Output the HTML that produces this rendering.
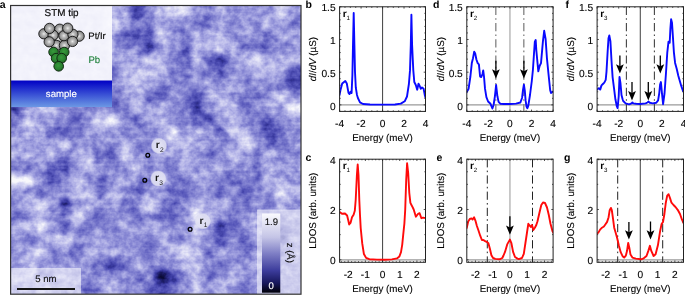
<!DOCTYPE html><html><head><meta charset="utf-8"><style>html,body{margin:0;padding:0;background:#fff;width:685px;height:296px;overflow:hidden}svg{display:block;will-change:transform}text{font-family:"Liberation Sans",sans-serif;stroke:#000;stroke-width:0.12px;text-rendering:geometricPrecision}</style></head><body>
<svg xmlns="http://www.w3.org/2000/svg" width="685" height="296" viewBox="0 0 685 296" font-family='"Liberation Sans", sans-serif' fill="#000">
<defs><radialGradient id="gs" cx="0.5" cy="0.5" r="0.55"><stop offset="0" stop-color="#ececec"/><stop offset="0.3" stop-color="#bcbcbc"/><stop offset="0.7" stop-color="#939393"/><stop offset="1" stop-color="#6a6a6a"/></radialGradient><radialGradient id="gg" cx="0.45" cy="0.42" r="0.6"><stop offset="0" stop-color="#389a3c"/><stop offset="0.6" stop-color="#2a8230"/><stop offset="1" stop-color="#1c6322"/></radialGradient><linearGradient id="samp" x1="0" y1="0" x2="0" y2="1"><stop offset="0" stop-color="#0000c4"/><stop offset="1" stop-color="#6c98e4"/></linearGradient><clipPath id="clip_b"><rect x="339.6" y="6.8" width="85.90" height="104.60"/></clipPath><clipPath id="clip_c"><rect x="339.6" y="159.2" width="85.90" height="103.10"/></clipPath><clipPath id="clip_d"><rect x="466.8" y="6.8" width="86.30" height="104.60"/></clipPath><clipPath id="clip_e"><rect x="466.8" y="159.2" width="86.30" height="103.10"/></clipPath><clipPath id="clip_f"><rect x="597.1" y="6.8" width="86.40" height="104.60"/></clipPath><clipPath id="clip_g"><rect x="597.1" y="159.2" width="86.40" height="103.10"/></clipPath></defs>
<defs>
<filter id="stmf" filterUnits="userSpaceOnUse" x="11" y="6" width="290" height="288" color-interpolation-filters="sRGB"><feGaussianBlur in="SourceGraphic" stdDeviation="3" result="g"/><feTurbulence type="fractalNoise" baseFrequency="0.13 0.14" numOctaves="3" seed="5" result="t"/><feColorMatrix in="t" type="matrix" values="1 0 0 0 0  1 0 0 0 0  1 0 0 0 0  0 0 0 0 1" result="n"/><feTurbulence type="fractalNoise" baseFrequency="0.004 0.45" numOctaves="1" seed="11" result="t2"/><feColorMatrix in="t2" type="matrix" values="1 0 0 0 0  1 0 0 0 0  1 0 0 0 0  0 0 0 0 1" result="n2"/><feComposite in="g" in2="n" operator="arithmetic" k1="0" k2="1" k3="0.42" k4="-0.21" result="h0"/><feComposite in="h0" in2="n2" operator="arithmetic" k1="0" k2="1" k3="0.08" k4="-0.04" result="h"/><feComponentTransfer in="h"><feFuncR type="table" tableValues="0.000 0.063 0.141 0.227 0.329 0.439 0.549 0.667 0.776 0.878 0.973"/><feFuncG type="table" tableValues="0.000 0.063 0.141 0.227 0.329 0.439 0.549 0.667 0.776 0.878 0.973"/><feFuncB type="table" tableValues="0.031 0.275 0.471 0.627 0.722 0.784 0.839 0.894 0.933 0.965 0.988"/></feComponentTransfer></filter>
<clipPath id="stmclip"><rect x="11" y="6" width="290" height="288"/></clipPath>
</defs>
<g clip-path="url(#stmclip)">
<g filter="url(#stmf)">
<rect x="0" y="0" width="310" height="300" fill="#999"/>
<rect x="-1" y="-6" width="24" height="24" fill="rgb(158,158,158)"/>
<rect x="23" y="-6" width="12" height="24" fill="rgb(158,158,158)"/>
<rect x="35" y="-6" width="12" height="24" fill="rgb(158,158,158)"/>
<rect x="47" y="-6" width="12" height="24" fill="rgb(158,158,158)"/>
<rect x="59" y="-6" width="12" height="24" fill="rgb(158,158,158)"/>
<rect x="71" y="-6" width="12" height="24" fill="rgb(158,158,158)"/>
<rect x="83" y="-6" width="12" height="24" fill="rgb(158,158,158)"/>
<rect x="95" y="-6" width="12" height="24" fill="rgb(158,158,158)"/>
<rect x="107" y="-6" width="12" height="24" fill="rgb(195,195,195)"/>
<rect x="119" y="-6" width="12" height="24" fill="rgb(177,177,177)"/>
<rect x="131" y="-6" width="12" height="24" fill="rgb(84,84,84)"/>
<rect x="143" y="-6" width="12" height="24" fill="rgb(140,140,140)"/>
<rect x="155" y="-6" width="12" height="24" fill="rgb(195,195,195)"/>
<rect x="167" y="-6" width="12" height="24" fill="rgb(232,232,232)"/>
<rect x="179" y="-6" width="12" height="24" fill="rgb(232,232,232)"/>
<rect x="191" y="-6" width="12" height="24" fill="rgb(158,158,158)"/>
<rect x="203" y="-6" width="12" height="24" fill="rgb(140,140,140)"/>
<rect x="215" y="-6" width="12" height="24" fill="rgb(195,195,195)"/>
<rect x="227" y="-6" width="12" height="24" fill="rgb(158,158,158)"/>
<rect x="239" y="-6" width="12" height="24" fill="rgb(158,158,158)"/>
<rect x="251" y="-6" width="12" height="24" fill="rgb(158,158,158)"/>
<rect x="263" y="-6" width="12" height="24" fill="rgb(158,158,158)"/>
<rect x="275" y="-6" width="12" height="24" fill="rgb(232,232,232)"/>
<rect x="287" y="-6" width="24" height="24" fill="rgb(158,158,158)"/>
<rect x="-1" y="18" width="24" height="12" fill="rgb(158,158,158)"/>
<rect x="23" y="18" width="12" height="12" fill="rgb(158,158,158)"/>
<rect x="35" y="18" width="12" height="12" fill="rgb(158,158,158)"/>
<rect x="47" y="18" width="12" height="12" fill="rgb(158,158,158)"/>
<rect x="59" y="18" width="12" height="12" fill="rgb(158,158,158)"/>
<rect x="71" y="18" width="12" height="12" fill="rgb(158,158,158)"/>
<rect x="83" y="18" width="12" height="12" fill="rgb(158,158,158)"/>
<rect x="95" y="18" width="12" height="12" fill="rgb(158,158,158)"/>
<rect x="107" y="18" width="12" height="12" fill="rgb(232,232,232)"/>
<rect x="119" y="18" width="12" height="12" fill="rgb(177,177,177)"/>
<rect x="131" y="18" width="12" height="12" fill="rgb(140,140,140)"/>
<rect x="143" y="18" width="12" height="12" fill="rgb(140,140,140)"/>
<rect x="155" y="18" width="12" height="12" fill="rgb(177,177,177)"/>
<rect x="167" y="18" width="12" height="12" fill="rgb(140,140,140)"/>
<rect x="179" y="18" width="12" height="12" fill="rgb(140,140,140)"/>
<rect x="191" y="18" width="12" height="12" fill="rgb(140,140,140)"/>
<rect x="203" y="18" width="12" height="12" fill="rgb(121,121,121)"/>
<rect x="215" y="18" width="12" height="12" fill="rgb(177,177,177)"/>
<rect x="227" y="18" width="12" height="12" fill="rgb(140,140,140)"/>
<rect x="239" y="18" width="12" height="12" fill="rgb(177,177,177)"/>
<rect x="251" y="18" width="12" height="12" fill="rgb(158,158,158)"/>
<rect x="263" y="18" width="12" height="12" fill="rgb(195,195,195)"/>
<rect x="275" y="18" width="12" height="12" fill="rgb(158,158,158)"/>
<rect x="287" y="18" width="24" height="12" fill="rgb(140,140,140)"/>
<rect x="-1" y="30" width="24" height="12" fill="rgb(158,158,158)"/>
<rect x="23" y="30" width="12" height="12" fill="rgb(158,158,158)"/>
<rect x="35" y="30" width="12" height="12" fill="rgb(158,158,158)"/>
<rect x="47" y="30" width="12" height="12" fill="rgb(158,158,158)"/>
<rect x="59" y="30" width="12" height="12" fill="rgb(158,158,158)"/>
<rect x="71" y="30" width="12" height="12" fill="rgb(158,158,158)"/>
<rect x="83" y="30" width="12" height="12" fill="rgb(158,158,158)"/>
<rect x="95" y="30" width="12" height="12" fill="rgb(158,158,158)"/>
<rect x="107" y="30" width="12" height="12" fill="rgb(158,158,158)"/>
<rect x="119" y="30" width="12" height="12" fill="rgb(103,103,103)"/>
<rect x="131" y="30" width="12" height="12" fill="rgb(84,84,84)"/>
<rect x="143" y="30" width="12" height="12" fill="rgb(103,103,103)"/>
<rect x="155" y="30" width="12" height="12" fill="rgb(214,214,214)"/>
<rect x="167" y="30" width="12" height="12" fill="rgb(177,177,177)"/>
<rect x="179" y="30" width="12" height="12" fill="rgb(140,140,140)"/>
<rect x="191" y="30" width="12" height="12" fill="rgb(195,195,195)"/>
<rect x="203" y="30" width="12" height="12" fill="rgb(177,177,177)"/>
<rect x="215" y="30" width="12" height="12" fill="rgb(195,195,195)"/>
<rect x="227" y="30" width="12" height="12" fill="rgb(158,158,158)"/>
<rect x="239" y="30" width="12" height="12" fill="rgb(158,158,158)"/>
<rect x="251" y="30" width="12" height="12" fill="rgb(158,158,158)"/>
<rect x="263" y="30" width="12" height="12" fill="rgb(121,121,121)"/>
<rect x="275" y="30" width="12" height="12" fill="rgb(177,177,177)"/>
<rect x="287" y="30" width="24" height="12" fill="rgb(177,177,177)"/>
<rect x="-1" y="42" width="24" height="12" fill="rgb(158,158,158)"/>
<rect x="23" y="42" width="12" height="12" fill="rgb(158,158,158)"/>
<rect x="35" y="42" width="12" height="12" fill="rgb(158,158,158)"/>
<rect x="47" y="42" width="12" height="12" fill="rgb(158,158,158)"/>
<rect x="59" y="42" width="12" height="12" fill="rgb(158,158,158)"/>
<rect x="71" y="42" width="12" height="12" fill="rgb(158,158,158)"/>
<rect x="83" y="42" width="12" height="12" fill="rgb(158,158,158)"/>
<rect x="95" y="42" width="12" height="12" fill="rgb(158,158,158)"/>
<rect x="107" y="42" width="12" height="12" fill="rgb(177,177,177)"/>
<rect x="119" y="42" width="12" height="12" fill="rgb(158,158,158)"/>
<rect x="131" y="42" width="12" height="12" fill="rgb(158,158,158)"/>
<rect x="143" y="42" width="12" height="12" fill="rgb(84,84,84)"/>
<rect x="155" y="42" width="12" height="12" fill="rgb(158,158,158)"/>
<rect x="167" y="42" width="12" height="12" fill="rgb(177,177,177)"/>
<rect x="179" y="42" width="12" height="12" fill="rgb(103,103,103)"/>
<rect x="191" y="42" width="12" height="12" fill="rgb(177,177,177)"/>
<rect x="203" y="42" width="12" height="12" fill="rgb(195,195,195)"/>
<rect x="215" y="42" width="12" height="12" fill="rgb(214,214,214)"/>
<rect x="227" y="42" width="12" height="12" fill="rgb(177,177,177)"/>
<rect x="239" y="42" width="12" height="12" fill="rgb(140,140,140)"/>
<rect x="251" y="42" width="12" height="12" fill="rgb(121,121,121)"/>
<rect x="263" y="42" width="12" height="12" fill="rgb(140,140,140)"/>
<rect x="275" y="42" width="12" height="12" fill="rgb(140,140,140)"/>
<rect x="287" y="42" width="24" height="12" fill="rgb(158,158,158)"/>
<rect x="-1" y="54" width="24" height="12" fill="rgb(158,158,158)"/>
<rect x="23" y="54" width="12" height="12" fill="rgb(158,158,158)"/>
<rect x="35" y="54" width="12" height="12" fill="rgb(158,158,158)"/>
<rect x="47" y="54" width="12" height="12" fill="rgb(158,158,158)"/>
<rect x="59" y="54" width="12" height="12" fill="rgb(158,158,158)"/>
<rect x="71" y="54" width="12" height="12" fill="rgb(158,158,158)"/>
<rect x="83" y="54" width="12" height="12" fill="rgb(158,158,158)"/>
<rect x="95" y="54" width="12" height="12" fill="rgb(158,158,158)"/>
<rect x="107" y="54" width="12" height="12" fill="rgb(158,158,158)"/>
<rect x="119" y="54" width="12" height="12" fill="rgb(195,195,195)"/>
<rect x="131" y="54" width="12" height="12" fill="rgb(158,158,158)"/>
<rect x="143" y="54" width="12" height="12" fill="rgb(214,214,214)"/>
<rect x="155" y="54" width="12" height="12" fill="rgb(195,195,195)"/>
<rect x="167" y="54" width="12" height="12" fill="rgb(140,140,140)"/>
<rect x="179" y="54" width="12" height="12" fill="rgb(121,121,121)"/>
<rect x="191" y="54" width="12" height="12" fill="rgb(195,195,195)"/>
<rect x="203" y="54" width="12" height="12" fill="rgb(121,121,121)"/>
<rect x="215" y="54" width="12" height="12" fill="rgb(66,66,66)"/>
<rect x="227" y="54" width="12" height="12" fill="rgb(158,158,158)"/>
<rect x="239" y="54" width="12" height="12" fill="rgb(195,195,195)"/>
<rect x="251" y="54" width="12" height="12" fill="rgb(232,232,232)"/>
<rect x="263" y="54" width="12" height="12" fill="rgb(177,177,177)"/>
<rect x="275" y="54" width="12" height="12" fill="rgb(195,195,195)"/>
<rect x="287" y="54" width="24" height="12" fill="rgb(195,195,195)"/>
<rect x="-1" y="66" width="24" height="12" fill="rgb(158,158,158)"/>
<rect x="23" y="66" width="12" height="12" fill="rgb(158,158,158)"/>
<rect x="35" y="66" width="12" height="12" fill="rgb(158,158,158)"/>
<rect x="47" y="66" width="12" height="12" fill="rgb(158,158,158)"/>
<rect x="59" y="66" width="12" height="12" fill="rgb(158,158,158)"/>
<rect x="71" y="66" width="12" height="12" fill="rgb(158,158,158)"/>
<rect x="83" y="66" width="12" height="12" fill="rgb(158,158,158)"/>
<rect x="95" y="66" width="12" height="12" fill="rgb(158,158,158)"/>
<rect x="107" y="66" width="12" height="12" fill="rgb(121,121,121)"/>
<rect x="119" y="66" width="12" height="12" fill="rgb(177,177,177)"/>
<rect x="131" y="66" width="12" height="12" fill="rgb(214,214,214)"/>
<rect x="143" y="66" width="12" height="12" fill="rgb(195,195,195)"/>
<rect x="155" y="66" width="12" height="12" fill="rgb(195,195,195)"/>
<rect x="167" y="66" width="12" height="12" fill="rgb(140,140,140)"/>
<rect x="179" y="66" width="12" height="12" fill="rgb(140,140,140)"/>
<rect x="191" y="66" width="12" height="12" fill="rgb(158,158,158)"/>
<rect x="203" y="66" width="12" height="12" fill="rgb(140,140,140)"/>
<rect x="215" y="66" width="12" height="12" fill="rgb(103,103,103)"/>
<rect x="227" y="66" width="12" height="12" fill="rgb(158,158,158)"/>
<rect x="239" y="66" width="12" height="12" fill="rgb(158,158,158)"/>
<rect x="251" y="66" width="12" height="12" fill="rgb(177,177,177)"/>
<rect x="263" y="66" width="12" height="12" fill="rgb(195,195,195)"/>
<rect x="275" y="66" width="12" height="12" fill="rgb(177,177,177)"/>
<rect x="287" y="66" width="24" height="12" fill="rgb(84,84,84)"/>
<rect x="-1" y="78" width="24" height="12" fill="rgb(158,158,158)"/>
<rect x="23" y="78" width="12" height="12" fill="rgb(158,158,158)"/>
<rect x="35" y="78" width="12" height="12" fill="rgb(158,158,158)"/>
<rect x="47" y="78" width="12" height="12" fill="rgb(158,158,158)"/>
<rect x="59" y="78" width="12" height="12" fill="rgb(158,158,158)"/>
<rect x="71" y="78" width="12" height="12" fill="rgb(158,158,158)"/>
<rect x="83" y="78" width="12" height="12" fill="rgb(158,158,158)"/>
<rect x="95" y="78" width="12" height="12" fill="rgb(158,158,158)"/>
<rect x="107" y="78" width="12" height="12" fill="rgb(158,158,158)"/>
<rect x="119" y="78" width="12" height="12" fill="rgb(177,177,177)"/>
<rect x="131" y="78" width="12" height="12" fill="rgb(195,195,195)"/>
<rect x="143" y="78" width="12" height="12" fill="rgb(195,195,195)"/>
<rect x="155" y="78" width="12" height="12" fill="rgb(140,140,140)"/>
<rect x="167" y="78" width="12" height="12" fill="rgb(158,158,158)"/>
<rect x="179" y="78" width="12" height="12" fill="rgb(140,140,140)"/>
<rect x="191" y="78" width="12" height="12" fill="rgb(158,158,158)"/>
<rect x="203" y="78" width="12" height="12" fill="rgb(177,177,177)"/>
<rect x="215" y="78" width="12" height="12" fill="rgb(140,140,140)"/>
<rect x="227" y="78" width="12" height="12" fill="rgb(195,195,195)"/>
<rect x="239" y="78" width="12" height="12" fill="rgb(140,140,140)"/>
<rect x="251" y="78" width="12" height="12" fill="rgb(177,177,177)"/>
<rect x="263" y="78" width="12" height="12" fill="rgb(140,140,140)"/>
<rect x="275" y="78" width="12" height="12" fill="rgb(140,140,140)"/>
<rect x="287" y="78" width="24" height="12" fill="rgb(84,84,84)"/>
<rect x="-1" y="90" width="24" height="12" fill="rgb(158,158,158)"/>
<rect x="23" y="90" width="12" height="12" fill="rgb(158,158,158)"/>
<rect x="35" y="90" width="12" height="12" fill="rgb(158,158,158)"/>
<rect x="47" y="90" width="12" height="12" fill="rgb(158,158,158)"/>
<rect x="59" y="90" width="12" height="12" fill="rgb(158,158,158)"/>
<rect x="71" y="90" width="12" height="12" fill="rgb(158,158,158)"/>
<rect x="83" y="90" width="12" height="12" fill="rgb(158,158,158)"/>
<rect x="95" y="90" width="12" height="12" fill="rgb(158,158,158)"/>
<rect x="107" y="90" width="12" height="12" fill="rgb(121,121,121)"/>
<rect x="119" y="90" width="12" height="12" fill="rgb(158,158,158)"/>
<rect x="131" y="90" width="12" height="12" fill="rgb(195,195,195)"/>
<rect x="143" y="90" width="12" height="12" fill="rgb(121,121,121)"/>
<rect x="155" y="90" width="12" height="12" fill="rgb(103,103,103)"/>
<rect x="167" y="90" width="12" height="12" fill="rgb(158,158,158)"/>
<rect x="179" y="90" width="12" height="12" fill="rgb(140,140,140)"/>
<rect x="191" y="90" width="12" height="12" fill="rgb(103,103,103)"/>
<rect x="203" y="90" width="12" height="12" fill="rgb(177,177,177)"/>
<rect x="215" y="90" width="12" height="12" fill="rgb(195,195,195)"/>
<rect x="227" y="90" width="12" height="12" fill="rgb(158,158,158)"/>
<rect x="239" y="90" width="12" height="12" fill="rgb(140,140,140)"/>
<rect x="251" y="90" width="12" height="12" fill="rgb(140,140,140)"/>
<rect x="263" y="90" width="12" height="12" fill="rgb(158,158,158)"/>
<rect x="275" y="90" width="12" height="12" fill="rgb(214,214,214)"/>
<rect x="287" y="90" width="24" height="12" fill="rgb(158,158,158)"/>
<rect x="-1" y="102" width="24" height="12" fill="rgb(84,84,84)"/>
<rect x="23" y="102" width="12" height="12" fill="rgb(158,158,158)"/>
<rect x="35" y="102" width="12" height="12" fill="rgb(195,195,195)"/>
<rect x="47" y="102" width="12" height="12" fill="rgb(195,195,195)"/>
<rect x="59" y="102" width="12" height="12" fill="rgb(158,158,158)"/>
<rect x="71" y="102" width="12" height="12" fill="rgb(158,158,158)"/>
<rect x="83" y="102" width="12" height="12" fill="rgb(140,140,140)"/>
<rect x="95" y="102" width="12" height="12" fill="rgb(158,158,158)"/>
<rect x="107" y="102" width="12" height="12" fill="rgb(103,103,103)"/>
<rect x="119" y="102" width="12" height="12" fill="rgb(158,158,158)"/>
<rect x="131" y="102" width="12" height="12" fill="rgb(195,195,195)"/>
<rect x="143" y="102" width="12" height="12" fill="rgb(158,158,158)"/>
<rect x="155" y="102" width="12" height="12" fill="rgb(195,195,195)"/>
<rect x="167" y="102" width="12" height="12" fill="rgb(158,158,158)"/>
<rect x="179" y="102" width="12" height="12" fill="rgb(140,140,140)"/>
<rect x="191" y="102" width="12" height="12" fill="rgb(66,66,66)"/>
<rect x="203" y="102" width="12" height="12" fill="rgb(158,158,158)"/>
<rect x="215" y="102" width="12" height="12" fill="rgb(195,195,195)"/>
<rect x="227" y="102" width="12" height="12" fill="rgb(195,195,195)"/>
<rect x="239" y="102" width="12" height="12" fill="rgb(121,121,121)"/>
<rect x="251" y="102" width="12" height="12" fill="rgb(158,158,158)"/>
<rect x="263" y="102" width="12" height="12" fill="rgb(177,177,177)"/>
<rect x="275" y="102" width="12" height="12" fill="rgb(177,177,177)"/>
<rect x="287" y="102" width="24" height="12" fill="rgb(255,255,255)"/>
<rect x="-1" y="114" width="24" height="12" fill="rgb(140,140,140)"/>
<rect x="23" y="114" width="12" height="12" fill="rgb(214,214,214)"/>
<rect x="35" y="114" width="12" height="12" fill="rgb(158,158,158)"/>
<rect x="47" y="114" width="12" height="12" fill="rgb(177,177,177)"/>
<rect x="59" y="114" width="12" height="12" fill="rgb(140,140,140)"/>
<rect x="71" y="114" width="12" height="12" fill="rgb(103,103,103)"/>
<rect x="83" y="114" width="12" height="12" fill="rgb(177,177,177)"/>
<rect x="95" y="114" width="12" height="12" fill="rgb(232,232,232)"/>
<rect x="107" y="114" width="12" height="12" fill="rgb(251,251,251)"/>
<rect x="119" y="114" width="12" height="12" fill="rgb(158,158,158)"/>
<rect x="131" y="114" width="12" height="12" fill="rgb(121,121,121)"/>
<rect x="143" y="114" width="12" height="12" fill="rgb(177,177,177)"/>
<rect x="155" y="114" width="12" height="12" fill="rgb(195,195,195)"/>
<rect x="167" y="114" width="12" height="12" fill="rgb(140,140,140)"/>
<rect x="179" y="114" width="12" height="12" fill="rgb(140,140,140)"/>
<rect x="191" y="114" width="12" height="12" fill="rgb(121,121,121)"/>
<rect x="203" y="114" width="12" height="12" fill="rgb(103,103,103)"/>
<rect x="215" y="114" width="12" height="12" fill="rgb(158,158,158)"/>
<rect x="227" y="114" width="12" height="12" fill="rgb(195,195,195)"/>
<rect x="239" y="114" width="12" height="12" fill="rgb(158,158,158)"/>
<rect x="251" y="114" width="12" height="12" fill="rgb(121,121,121)"/>
<rect x="263" y="114" width="12" height="12" fill="rgb(103,103,103)"/>
<rect x="275" y="114" width="12" height="12" fill="rgb(158,158,158)"/>
<rect x="287" y="114" width="24" height="12" fill="rgb(158,158,158)"/>
<rect x="-1" y="126" width="24" height="12" fill="rgb(158,158,158)"/>
<rect x="23" y="126" width="12" height="12" fill="rgb(195,195,195)"/>
<rect x="35" y="126" width="12" height="12" fill="rgb(177,177,177)"/>
<rect x="47" y="126" width="12" height="12" fill="rgb(121,121,121)"/>
<rect x="59" y="126" width="12" height="12" fill="rgb(103,103,103)"/>
<rect x="71" y="126" width="12" height="12" fill="rgb(140,140,140)"/>
<rect x="83" y="126" width="12" height="12" fill="rgb(158,158,158)"/>
<rect x="95" y="126" width="12" height="12" fill="rgb(177,177,177)"/>
<rect x="107" y="126" width="12" height="12" fill="rgb(158,158,158)"/>
<rect x="119" y="126" width="12" height="12" fill="rgb(140,140,140)"/>
<rect x="131" y="126" width="12" height="12" fill="rgb(158,158,158)"/>
<rect x="143" y="126" width="12" height="12" fill="rgb(140,140,140)"/>
<rect x="155" y="126" width="12" height="12" fill="rgb(177,177,177)"/>
<rect x="167" y="126" width="12" height="12" fill="rgb(232,232,232)"/>
<rect x="179" y="126" width="12" height="12" fill="rgb(158,158,158)"/>
<rect x="191" y="126" width="12" height="12" fill="rgb(195,195,195)"/>
<rect x="203" y="126" width="12" height="12" fill="rgb(158,158,158)"/>
<rect x="215" y="126" width="12" height="12" fill="rgb(121,121,121)"/>
<rect x="227" y="126" width="12" height="12" fill="rgb(214,214,214)"/>
<rect x="239" y="126" width="12" height="12" fill="rgb(195,195,195)"/>
<rect x="251" y="126" width="12" height="12" fill="rgb(140,140,140)"/>
<rect x="263" y="126" width="12" height="12" fill="rgb(84,84,84)"/>
<rect x="275" y="126" width="12" height="12" fill="rgb(121,121,121)"/>
<rect x="287" y="126" width="24" height="12" fill="rgb(158,158,158)"/>
<rect x="-1" y="138" width="24" height="12" fill="rgb(177,177,177)"/>
<rect x="23" y="138" width="12" height="12" fill="rgb(158,158,158)"/>
<rect x="35" y="138" width="12" height="12" fill="rgb(177,177,177)"/>
<rect x="47" y="138" width="12" height="12" fill="rgb(177,177,177)"/>
<rect x="59" y="138" width="12" height="12" fill="rgb(214,214,214)"/>
<rect x="71" y="138" width="12" height="12" fill="rgb(158,158,158)"/>
<rect x="83" y="138" width="12" height="12" fill="rgb(158,158,158)"/>
<rect x="95" y="138" width="12" height="12" fill="rgb(158,158,158)"/>
<rect x="107" y="138" width="12" height="12" fill="rgb(158,158,158)"/>
<rect x="119" y="138" width="12" height="12" fill="rgb(195,195,195)"/>
<rect x="131" y="138" width="12" height="12" fill="rgb(140,140,140)"/>
<rect x="143" y="138" width="12" height="12" fill="rgb(140,140,140)"/>
<rect x="155" y="138" width="12" height="12" fill="rgb(177,177,177)"/>
<rect x="167" y="138" width="12" height="12" fill="rgb(195,195,195)"/>
<rect x="179" y="138" width="12" height="12" fill="rgb(195,195,195)"/>
<rect x="191" y="138" width="12" height="12" fill="rgb(177,177,177)"/>
<rect x="203" y="138" width="12" height="12" fill="rgb(177,177,177)"/>
<rect x="215" y="138" width="12" height="12" fill="rgb(140,140,140)"/>
<rect x="227" y="138" width="12" height="12" fill="rgb(158,158,158)"/>
<rect x="239" y="138" width="12" height="12" fill="rgb(232,232,232)"/>
<rect x="251" y="138" width="12" height="12" fill="rgb(177,177,177)"/>
<rect x="263" y="138" width="12" height="12" fill="rgb(121,121,121)"/>
<rect x="275" y="138" width="12" height="12" fill="rgb(121,121,121)"/>
<rect x="287" y="138" width="24" height="12" fill="rgb(158,158,158)"/>
<rect x="-1" y="150" width="24" height="12" fill="rgb(177,177,177)"/>
<rect x="23" y="150" width="12" height="12" fill="rgb(195,195,195)"/>
<rect x="35" y="150" width="12" height="12" fill="rgb(158,158,158)"/>
<rect x="47" y="150" width="12" height="12" fill="rgb(195,195,195)"/>
<rect x="59" y="150" width="12" height="12" fill="rgb(121,121,121)"/>
<rect x="71" y="150" width="12" height="12" fill="rgb(177,177,177)"/>
<rect x="83" y="150" width="12" height="12" fill="rgb(195,195,195)"/>
<rect x="95" y="150" width="12" height="12" fill="rgb(121,121,121)"/>
<rect x="107" y="150" width="12" height="12" fill="rgb(103,103,103)"/>
<rect x="119" y="150" width="12" height="12" fill="rgb(232,232,232)"/>
<rect x="131" y="150" width="12" height="12" fill="rgb(158,158,158)"/>
<rect x="143" y="150" width="12" height="12" fill="rgb(158,158,158)"/>
<rect x="155" y="150" width="12" height="12" fill="rgb(177,177,177)"/>
<rect x="167" y="150" width="12" height="12" fill="rgb(158,158,158)"/>
<rect x="179" y="150" width="12" height="12" fill="rgb(195,195,195)"/>
<rect x="191" y="150" width="12" height="12" fill="rgb(158,158,158)"/>
<rect x="203" y="150" width="12" height="12" fill="rgb(121,121,121)"/>
<rect x="215" y="150" width="12" height="12" fill="rgb(158,158,158)"/>
<rect x="227" y="150" width="12" height="12" fill="rgb(214,214,214)"/>
<rect x="239" y="150" width="12" height="12" fill="rgb(158,158,158)"/>
<rect x="251" y="150" width="12" height="12" fill="rgb(140,140,140)"/>
<rect x="263" y="150" width="12" height="12" fill="rgb(195,195,195)"/>
<rect x="275" y="150" width="12" height="12" fill="rgb(158,158,158)"/>
<rect x="287" y="150" width="24" height="12" fill="rgb(158,158,158)"/>
<rect x="-1" y="162" width="24" height="12" fill="rgb(140,140,140)"/>
<rect x="23" y="162" width="12" height="12" fill="rgb(121,121,121)"/>
<rect x="35" y="162" width="12" height="12" fill="rgb(158,158,158)"/>
<rect x="47" y="162" width="12" height="12" fill="rgb(103,103,103)"/>
<rect x="59" y="162" width="12" height="12" fill="rgb(103,103,103)"/>
<rect x="71" y="162" width="12" height="12" fill="rgb(158,158,158)"/>
<rect x="83" y="162" width="12" height="12" fill="rgb(214,214,214)"/>
<rect x="95" y="162" width="12" height="12" fill="rgb(158,158,158)"/>
<rect x="107" y="162" width="12" height="12" fill="rgb(158,158,158)"/>
<rect x="119" y="162" width="12" height="12" fill="rgb(140,140,140)"/>
<rect x="131" y="162" width="12" height="12" fill="rgb(195,195,195)"/>
<rect x="143" y="162" width="12" height="12" fill="rgb(158,158,158)"/>
<rect x="155" y="162" width="12" height="12" fill="rgb(158,158,158)"/>
<rect x="167" y="162" width="12" height="12" fill="rgb(121,121,121)"/>
<rect x="179" y="162" width="12" height="12" fill="rgb(195,195,195)"/>
<rect x="191" y="162" width="12" height="12" fill="rgb(158,158,158)"/>
<rect x="203" y="162" width="12" height="12" fill="rgb(177,177,177)"/>
<rect x="215" y="162" width="12" height="12" fill="rgb(177,177,177)"/>
<rect x="227" y="162" width="12" height="12" fill="rgb(140,140,140)"/>
<rect x="239" y="162" width="12" height="12" fill="rgb(158,158,158)"/>
<rect x="251" y="162" width="12" height="12" fill="rgb(140,140,140)"/>
<rect x="263" y="162" width="12" height="12" fill="rgb(177,177,177)"/>
<rect x="275" y="162" width="12" height="12" fill="rgb(158,158,158)"/>
<rect x="287" y="162" width="24" height="12" fill="rgb(177,177,177)"/>
<rect x="-1" y="174" width="24" height="12" fill="rgb(255,255,255)"/>
<rect x="23" y="174" width="12" height="12" fill="rgb(251,251,251)"/>
<rect x="35" y="174" width="12" height="12" fill="rgb(158,158,158)"/>
<rect x="47" y="174" width="12" height="12" fill="rgb(103,103,103)"/>
<rect x="59" y="174" width="12" height="12" fill="rgb(158,158,158)"/>
<rect x="71" y="174" width="12" height="12" fill="rgb(195,195,195)"/>
<rect x="83" y="174" width="12" height="12" fill="rgb(158,158,158)"/>
<rect x="95" y="174" width="12" height="12" fill="rgb(121,121,121)"/>
<rect x="107" y="174" width="12" height="12" fill="rgb(158,158,158)"/>
<rect x="119" y="174" width="12" height="12" fill="rgb(195,195,195)"/>
<rect x="131" y="174" width="12" height="12" fill="rgb(158,158,158)"/>
<rect x="143" y="174" width="12" height="12" fill="rgb(140,140,140)"/>
<rect x="155" y="174" width="12" height="12" fill="rgb(195,195,195)"/>
<rect x="167" y="174" width="12" height="12" fill="rgb(140,140,140)"/>
<rect x="179" y="174" width="12" height="12" fill="rgb(140,140,140)"/>
<rect x="191" y="174" width="12" height="12" fill="rgb(177,177,177)"/>
<rect x="203" y="174" width="12" height="12" fill="rgb(177,177,177)"/>
<rect x="215" y="174" width="12" height="12" fill="rgb(140,140,140)"/>
<rect x="227" y="174" width="12" height="12" fill="rgb(121,121,121)"/>
<rect x="239" y="174" width="12" height="12" fill="rgb(158,158,158)"/>
<rect x="251" y="174" width="12" height="12" fill="rgb(121,121,121)"/>
<rect x="263" y="174" width="12" height="12" fill="rgb(195,195,195)"/>
<rect x="275" y="174" width="12" height="12" fill="rgb(177,177,177)"/>
<rect x="287" y="174" width="24" height="12" fill="rgb(158,158,158)"/>
<rect x="-1" y="186" width="24" height="12" fill="rgb(158,158,158)"/>
<rect x="23" y="186" width="12" height="12" fill="rgb(158,158,158)"/>
<rect x="35" y="186" width="12" height="12" fill="rgb(121,121,121)"/>
<rect x="47" y="186" width="12" height="12" fill="rgb(158,158,158)"/>
<rect x="59" y="186" width="12" height="12" fill="rgb(158,158,158)"/>
<rect x="71" y="186" width="12" height="12" fill="rgb(195,195,195)"/>
<rect x="83" y="186" width="12" height="12" fill="rgb(195,195,195)"/>
<rect x="95" y="186" width="12" height="12" fill="rgb(121,121,121)"/>
<rect x="107" y="186" width="12" height="12" fill="rgb(195,195,195)"/>
<rect x="119" y="186" width="12" height="12" fill="rgb(158,158,158)"/>
<rect x="131" y="186" width="12" height="12" fill="rgb(103,103,103)"/>
<rect x="143" y="186" width="12" height="12" fill="rgb(158,158,158)"/>
<rect x="155" y="186" width="12" height="12" fill="rgb(158,158,158)"/>
<rect x="167" y="186" width="12" height="12" fill="rgb(121,121,121)"/>
<rect x="179" y="186" width="12" height="12" fill="rgb(103,103,103)"/>
<rect x="191" y="186" width="12" height="12" fill="rgb(158,158,158)"/>
<rect x="203" y="186" width="12" height="12" fill="rgb(158,158,158)"/>
<rect x="215" y="186" width="12" height="12" fill="rgb(121,121,121)"/>
<rect x="227" y="186" width="12" height="12" fill="rgb(158,158,158)"/>
<rect x="239" y="186" width="12" height="12" fill="rgb(103,103,103)"/>
<rect x="251" y="186" width="12" height="12" fill="rgb(158,158,158)"/>
<rect x="263" y="186" width="12" height="12" fill="rgb(158,158,158)"/>
<rect x="275" y="186" width="12" height="12" fill="rgb(232,232,232)"/>
<rect x="287" y="186" width="24" height="12" fill="rgb(195,195,195)"/>
<rect x="-1" y="198" width="24" height="12" fill="rgb(158,158,158)"/>
<rect x="23" y="198" width="12" height="12" fill="rgb(195,195,195)"/>
<rect x="35" y="198" width="12" height="12" fill="rgb(232,232,232)"/>
<rect x="47" y="198" width="12" height="12" fill="rgb(158,158,158)"/>
<rect x="59" y="198" width="12" height="12" fill="rgb(84,84,84)"/>
<rect x="71" y="198" width="12" height="12" fill="rgb(158,158,158)"/>
<rect x="83" y="198" width="12" height="12" fill="rgb(195,195,195)"/>
<rect x="95" y="198" width="12" height="12" fill="rgb(158,158,158)"/>
<rect x="107" y="198" width="12" height="12" fill="rgb(195,195,195)"/>
<rect x="119" y="198" width="12" height="12" fill="rgb(121,121,121)"/>
<rect x="131" y="198" width="12" height="12" fill="rgb(158,158,158)"/>
<rect x="143" y="198" width="12" height="12" fill="rgb(232,232,232)"/>
<rect x="155" y="198" width="12" height="12" fill="rgb(158,158,158)"/>
<rect x="167" y="198" width="12" height="12" fill="rgb(121,121,121)"/>
<rect x="179" y="198" width="12" height="12" fill="rgb(158,158,158)"/>
<rect x="191" y="198" width="12" height="12" fill="rgb(195,195,195)"/>
<rect x="203" y="198" width="12" height="12" fill="rgb(158,158,158)"/>
<rect x="215" y="198" width="12" height="12" fill="rgb(195,195,195)"/>
<rect x="227" y="198" width="12" height="12" fill="rgb(158,158,158)"/>
<rect x="239" y="198" width="12" height="12" fill="rgb(121,121,121)"/>
<rect x="251" y="198" width="12" height="12" fill="rgb(158,158,158)"/>
<rect x="263" y="198" width="12" height="12" fill="rgb(121,121,121)"/>
<rect x="275" y="198" width="12" height="12" fill="rgb(195,195,195)"/>
<rect x="287" y="198" width="24" height="12" fill="rgb(158,158,158)"/>
<rect x="-1" y="210" width="24" height="12" fill="rgb(121,121,121)"/>
<rect x="23" y="210" width="12" height="12" fill="rgb(158,158,158)"/>
<rect x="35" y="210" width="12" height="12" fill="rgb(195,195,195)"/>
<rect x="47" y="210" width="12" height="12" fill="rgb(158,158,158)"/>
<rect x="59" y="210" width="12" height="12" fill="rgb(121,121,121)"/>
<rect x="71" y="210" width="12" height="12" fill="rgb(232,232,232)"/>
<rect x="83" y="210" width="12" height="12" fill="rgb(158,158,158)"/>
<rect x="95" y="210" width="12" height="12" fill="rgb(121,121,121)"/>
<rect x="107" y="210" width="12" height="12" fill="rgb(158,158,158)"/>
<rect x="119" y="210" width="12" height="12" fill="rgb(158,158,158)"/>
<rect x="131" y="210" width="12" height="12" fill="rgb(121,121,121)"/>
<rect x="143" y="210" width="12" height="12" fill="rgb(158,158,158)"/>
<rect x="155" y="210" width="12" height="12" fill="rgb(121,121,121)"/>
<rect x="167" y="210" width="12" height="12" fill="rgb(121,121,121)"/>
<rect x="179" y="210" width="12" height="12" fill="rgb(158,158,158)"/>
<rect x="191" y="210" width="12" height="12" fill="rgb(232,232,232)"/>
<rect x="203" y="210" width="12" height="12" fill="rgb(195,195,195)"/>
<rect x="215" y="210" width="12" height="12" fill="rgb(158,158,158)"/>
<rect x="227" y="210" width="12" height="12" fill="rgb(121,121,121)"/>
<rect x="239" y="210" width="12" height="12" fill="rgb(158,158,158)"/>
<rect x="251" y="210" width="12" height="12" fill="rgb(195,195,195)"/>
<rect x="263" y="210" width="12" height="12" fill="rgb(158,158,158)"/>
<rect x="275" y="210" width="12" height="12" fill="rgb(158,158,158)"/>
<rect x="287" y="210" width="24" height="12" fill="rgb(158,158,158)"/>
<rect x="-1" y="222" width="24" height="12" fill="rgb(195,195,195)"/>
<rect x="23" y="222" width="12" height="12" fill="rgb(195,195,195)"/>
<rect x="35" y="222" width="12" height="12" fill="rgb(232,232,232)"/>
<rect x="47" y="222" width="12" height="12" fill="rgb(158,158,158)"/>
<rect x="59" y="222" width="12" height="12" fill="rgb(121,121,121)"/>
<rect x="71" y="222" width="12" height="12" fill="rgb(158,158,158)"/>
<rect x="83" y="222" width="12" height="12" fill="rgb(121,121,121)"/>
<rect x="95" y="222" width="12" height="12" fill="rgb(158,158,158)"/>
<rect x="107" y="222" width="12" height="12" fill="rgb(121,121,121)"/>
<rect x="119" y="222" width="12" height="12" fill="rgb(195,195,195)"/>
<rect x="131" y="222" width="12" height="12" fill="rgb(158,158,158)"/>
<rect x="143" y="222" width="12" height="12" fill="rgb(195,195,195)"/>
<rect x="155" y="222" width="12" height="12" fill="rgb(158,158,158)"/>
<rect x="167" y="222" width="12" height="12" fill="rgb(158,158,158)"/>
<rect x="179" y="222" width="12" height="12" fill="rgb(158,158,158)"/>
<rect x="191" y="222" width="12" height="12" fill="rgb(195,195,195)"/>
<rect x="203" y="222" width="12" height="12" fill="rgb(158,158,158)"/>
<rect x="215" y="222" width="12" height="12" fill="rgb(84,84,84)"/>
<rect x="227" y="222" width="12" height="12" fill="rgb(121,121,121)"/>
<rect x="239" y="222" width="12" height="12" fill="rgb(158,158,158)"/>
<rect x="251" y="222" width="12" height="12" fill="rgb(195,195,195)"/>
<rect x="263" y="222" width="12" height="12" fill="rgb(158,158,158)"/>
<rect x="275" y="222" width="12" height="12" fill="rgb(103,103,103)"/>
<rect x="287" y="222" width="24" height="12" fill="rgb(158,158,158)"/>
<rect x="-1" y="234" width="24" height="12" fill="rgb(158,158,158)"/>
<rect x="23" y="234" width="12" height="12" fill="rgb(121,121,121)"/>
<rect x="35" y="234" width="12" height="12" fill="rgb(158,158,158)"/>
<rect x="47" y="234" width="12" height="12" fill="rgb(195,195,195)"/>
<rect x="59" y="234" width="12" height="12" fill="rgb(232,232,232)"/>
<rect x="71" y="234" width="12" height="12" fill="rgb(158,158,158)"/>
<rect x="83" y="234" width="12" height="12" fill="rgb(158,158,158)"/>
<rect x="95" y="234" width="12" height="12" fill="rgb(195,195,195)"/>
<rect x="107" y="234" width="12" height="12" fill="rgb(158,158,158)"/>
<rect x="119" y="234" width="12" height="12" fill="rgb(158,158,158)"/>
<rect x="131" y="234" width="12" height="12" fill="rgb(158,158,158)"/>
<rect x="143" y="234" width="12" height="12" fill="rgb(121,121,121)"/>
<rect x="155" y="234" width="12" height="12" fill="rgb(195,195,195)"/>
<rect x="167" y="234" width="12" height="12" fill="rgb(158,158,158)"/>
<rect x="179" y="234" width="12" height="12" fill="rgb(158,158,158)"/>
<rect x="191" y="234" width="12" height="12" fill="rgb(195,195,195)"/>
<rect x="203" y="234" width="12" height="12" fill="rgb(158,158,158)"/>
<rect x="215" y="234" width="12" height="12" fill="rgb(84,84,84)"/>
<rect x="227" y="234" width="12" height="12" fill="rgb(158,158,158)"/>
<rect x="239" y="234" width="12" height="12" fill="rgb(121,121,121)"/>
<rect x="251" y="234" width="12" height="12" fill="rgb(158,158,158)"/>
<rect x="263" y="234" width="12" height="12" fill="rgb(158,158,158)"/>
<rect x="275" y="234" width="12" height="12" fill="rgb(103,103,103)"/>
<rect x="287" y="234" width="24" height="12" fill="rgb(158,158,158)"/>
<rect x="-1" y="246" width="24" height="12" fill="rgb(158,158,158)"/>
<rect x="23" y="246" width="12" height="12" fill="rgb(195,195,195)"/>
<rect x="35" y="246" width="12" height="12" fill="rgb(232,232,232)"/>
<rect x="47" y="246" width="12" height="12" fill="rgb(121,121,121)"/>
<rect x="59" y="246" width="12" height="12" fill="rgb(158,158,158)"/>
<rect x="71" y="246" width="12" height="12" fill="rgb(121,121,121)"/>
<rect x="83" y="246" width="12" height="12" fill="rgb(195,195,195)"/>
<rect x="95" y="246" width="12" height="12" fill="rgb(158,158,158)"/>
<rect x="107" y="246" width="12" height="12" fill="rgb(195,195,195)"/>
<rect x="119" y="246" width="12" height="12" fill="rgb(158,158,158)"/>
<rect x="131" y="246" width="12" height="12" fill="rgb(158,158,158)"/>
<rect x="143" y="246" width="12" height="12" fill="rgb(121,121,121)"/>
<rect x="155" y="246" width="12" height="12" fill="rgb(158,158,158)"/>
<rect x="167" y="246" width="12" height="12" fill="rgb(195,195,195)"/>
<rect x="179" y="246" width="12" height="12" fill="rgb(232,232,232)"/>
<rect x="191" y="246" width="12" height="12" fill="rgb(195,195,195)"/>
<rect x="203" y="246" width="12" height="12" fill="rgb(121,121,121)"/>
<rect x="215" y="246" width="12" height="12" fill="rgb(195,195,195)"/>
<rect x="227" y="246" width="12" height="12" fill="rgb(158,158,158)"/>
<rect x="239" y="246" width="12" height="12" fill="rgb(121,121,121)"/>
<rect x="251" y="246" width="12" height="12" fill="rgb(158,158,158)"/>
<rect x="263" y="246" width="12" height="12" fill="rgb(158,158,158)"/>
<rect x="275" y="246" width="12" height="12" fill="rgb(158,158,158)"/>
<rect x="287" y="246" width="24" height="12" fill="rgb(158,158,158)"/>
<rect x="-1" y="258" width="24" height="12" fill="rgb(158,158,158)"/>
<rect x="23" y="258" width="12" height="12" fill="rgb(195,195,195)"/>
<rect x="35" y="258" width="12" height="12" fill="rgb(158,158,158)"/>
<rect x="47" y="258" width="12" height="12" fill="rgb(158,158,158)"/>
<rect x="59" y="258" width="12" height="12" fill="rgb(158,158,158)"/>
<rect x="71" y="258" width="12" height="12" fill="rgb(158,158,158)"/>
<rect x="83" y="258" width="12" height="12" fill="rgb(158,158,158)"/>
<rect x="95" y="258" width="12" height="12" fill="rgb(121,121,121)"/>
<rect x="107" y="258" width="12" height="12" fill="rgb(84,84,84)"/>
<rect x="119" y="258" width="12" height="12" fill="rgb(121,121,121)"/>
<rect x="131" y="258" width="12" height="12" fill="rgb(195,195,195)"/>
<rect x="143" y="258" width="12" height="12" fill="rgb(158,158,158)"/>
<rect x="155" y="258" width="12" height="12" fill="rgb(158,158,158)"/>
<rect x="167" y="258" width="12" height="12" fill="rgb(158,158,158)"/>
<rect x="179" y="258" width="12" height="12" fill="rgb(195,195,195)"/>
<rect x="191" y="258" width="12" height="12" fill="rgb(195,195,195)"/>
<rect x="203" y="258" width="12" height="12" fill="rgb(158,158,158)"/>
<rect x="215" y="258" width="12" height="12" fill="rgb(121,121,121)"/>
<rect x="227" y="258" width="12" height="12" fill="rgb(158,158,158)"/>
<rect x="239" y="258" width="12" height="12" fill="rgb(158,158,158)"/>
<rect x="251" y="258" width="12" height="12" fill="rgb(195,195,195)"/>
<rect x="263" y="258" width="12" height="12" fill="rgb(158,158,158)"/>
<rect x="275" y="258" width="12" height="12" fill="rgb(158,158,158)"/>
<rect x="287" y="258" width="24" height="12" fill="rgb(158,158,158)"/>
<rect x="-1" y="270" width="24" height="12" fill="rgb(195,195,195)"/>
<rect x="23" y="270" width="12" height="12" fill="rgb(195,195,195)"/>
<rect x="35" y="270" width="12" height="12" fill="rgb(158,158,158)"/>
<rect x="47" y="270" width="12" height="12" fill="rgb(158,158,158)"/>
<rect x="59" y="270" width="12" height="12" fill="rgb(195,195,195)"/>
<rect x="71" y="270" width="12" height="12" fill="rgb(158,158,158)"/>
<rect x="83" y="270" width="12" height="12" fill="rgb(158,158,158)"/>
<rect x="95" y="270" width="12" height="12" fill="rgb(158,158,158)"/>
<rect x="107" y="270" width="12" height="12" fill="rgb(158,158,158)"/>
<rect x="119" y="270" width="12" height="12" fill="rgb(158,158,158)"/>
<rect x="131" y="270" width="12" height="12" fill="rgb(121,121,121)"/>
<rect x="143" y="270" width="12" height="12" fill="rgb(158,158,158)"/>
<rect x="155" y="270" width="12" height="12" fill="rgb(10,10,10)"/>
<rect x="167" y="270" width="12" height="12" fill="rgb(84,84,84)"/>
<rect x="179" y="270" width="12" height="12" fill="rgb(158,158,158)"/>
<rect x="191" y="270" width="12" height="12" fill="rgb(195,195,195)"/>
<rect x="203" y="270" width="12" height="12" fill="rgb(121,121,121)"/>
<rect x="215" y="270" width="12" height="12" fill="rgb(158,158,158)"/>
<rect x="227" y="270" width="12" height="12" fill="rgb(195,195,195)"/>
<rect x="239" y="270" width="12" height="12" fill="rgb(158,158,158)"/>
<rect x="251" y="270" width="12" height="12" fill="rgb(158,158,158)"/>
<rect x="263" y="270" width="12" height="12" fill="rgb(158,158,158)"/>
<rect x="275" y="270" width="12" height="12" fill="rgb(158,158,158)"/>
<rect x="287" y="270" width="24" height="12" fill="rgb(158,158,158)"/>
<rect x="-1" y="282" width="24" height="24" fill="rgb(158,158,158)"/>
<rect x="23" y="282" width="12" height="24" fill="rgb(158,158,158)"/>
<rect x="35" y="282" width="12" height="24" fill="rgb(195,195,195)"/>
<rect x="47" y="282" width="12" height="24" fill="rgb(158,158,158)"/>
<rect x="59" y="282" width="12" height="24" fill="rgb(158,158,158)"/>
<rect x="71" y="282" width="12" height="24" fill="rgb(158,158,158)"/>
<rect x="83" y="282" width="12" height="24" fill="rgb(121,121,121)"/>
<rect x="95" y="282" width="12" height="24" fill="rgb(158,158,158)"/>
<rect x="107" y="282" width="12" height="24" fill="rgb(195,195,195)"/>
<rect x="119" y="282" width="12" height="24" fill="rgb(158,158,158)"/>
<rect x="131" y="282" width="12" height="24" fill="rgb(158,158,158)"/>
<rect x="143" y="282" width="12" height="24" fill="rgb(121,121,121)"/>
<rect x="155" y="282" width="12" height="24" fill="rgb(84,84,84)"/>
<rect x="167" y="282" width="12" height="24" fill="rgb(121,121,121)"/>
<rect x="179" y="282" width="12" height="24" fill="rgb(158,158,158)"/>
<rect x="191" y="282" width="12" height="24" fill="rgb(195,195,195)"/>
<rect x="203" y="282" width="12" height="24" fill="rgb(158,158,158)"/>
<rect x="215" y="282" width="12" height="24" fill="rgb(195,195,195)"/>
<rect x="227" y="282" width="12" height="24" fill="rgb(158,158,158)"/>
<rect x="239" y="282" width="12" height="24" fill="rgb(121,121,121)"/>
<rect x="251" y="282" width="12" height="24" fill="rgb(158,158,158)"/>
<rect x="263" y="282" width="12" height="24" fill="rgb(158,158,158)"/>
<rect x="275" y="282" width="12" height="24" fill="rgb(158,158,158)"/>
<rect x="287" y="282" width="24" height="24" fill="rgb(158,158,158)"/>
</g>
</g>
<rect x="11" y="6" width="101" height="75" fill="#fbfbfe" opacity="0.92"/>
<rect x="11" y="80.5" width="101" height="26.5" fill="url(#samp)"/>
<text x="61.3" y="96.9" font-size="9.6" fill="#fff" style="stroke:#fff;stroke-width:0.15px" text-anchor="middle" font-family='"Liberation Sans", sans-serif'>sample</text>
<text x="61.6" y="16.2" font-size="9.9" fill="#111" style="stroke-width:0.2px" text-anchor="middle" font-family='"Liberation Sans", sans-serif'>STM tip</text>
<text x="88.3" y="38.9" font-size="9.5" fill="#111" style="stroke-width:0.18px" font-family='"Liberation Sans", sans-serif'>Pt/Ir</text>
<text x="88.4" y="63.3" font-size="9.6" fill="#1a7f36" style="stroke:#1a7f36" font-family='"Liberation Sans", sans-serif'>Pb</text>
<circle cx="59.7" cy="29.2" r="5.15" fill="url(#gs)" stroke="#141414" stroke-width="0.9"/>
<circle cx="79.1" cy="36.2" r="5.15" fill="url(#gs)" stroke="#141414" stroke-width="0.9"/>
<circle cx="57.9" cy="39.0" r="5.15" fill="url(#gs)" stroke="#141414" stroke-width="0.9"/>
<circle cx="56.4" cy="45.4" r="5.15" fill="url(#gs)" stroke="#141414" stroke-width="0.9"/>
<circle cx="64.4" cy="45.4" r="5.15" fill="url(#gs)" stroke="#141414" stroke-width="0.9"/>
<circle cx="43.9" cy="33.8" r="5.15" fill="url(#gs)" stroke="#141414" stroke-width="0.9"/>
<circle cx="53.1" cy="35.2" r="5.15" fill="url(#gs)" stroke="#141414" stroke-width="0.9"/>
<circle cx="63.9" cy="35.7" r="5.15" fill="url(#gs)" stroke="#141414" stroke-width="0.9"/>
<circle cx="72.9" cy="34.3" r="5.15" fill="url(#gs)" stroke="#141414" stroke-width="0.9"/>
<circle cx="49.5" cy="28.4" r="5.15" fill="url(#gs)" stroke="#141414" stroke-width="0.9"/>
<circle cx="67.7" cy="28.2" r="5.15" fill="url(#gs)" stroke="#141414" stroke-width="0.9"/>
<circle cx="49.2" cy="41.8" r="5.15" fill="url(#gs)" stroke="#141414" stroke-width="0.9"/>
<circle cx="72.5" cy="41.4" r="5.15" fill="url(#gs)" stroke="#141414" stroke-width="0.9"/>
<circle cx="53.6" cy="52.1" r="4.85" fill="url(#gg)" stroke="#0f240f" stroke-width="0.9"/>
<circle cx="64.2" cy="52.1" r="4.85" fill="url(#gg)" stroke="#0f240f" stroke-width="0.9"/>
<circle cx="56.1" cy="58.2" r="4.85" fill="url(#gg)" stroke="#0f240f" stroke-width="0.9"/>
<circle cx="61.7" cy="58.2" r="4.85" fill="url(#gg)" stroke="#0f240f" stroke-width="0.9"/>
<circle cx="58.7" cy="66.3" r="4.85" fill="url(#gg)" stroke="#0f240f" stroke-width="0.9"/>
<radialGradient id="lab" cx="0.5" cy="0.5" r="0.5"><stop offset="0" stop-color="#e8e8f6" stop-opacity="0.92"/><stop offset="0.82" stop-color="#e2e2f3" stop-opacity="0.86"/><stop offset="1" stop-color="#dcdcf0" stop-opacity="0"/></radialGradient>
<linearGradient id="cbar" x1="0" y1="0" x2="0" y2="1"><stop offset="0" stop-color="#fafafe"/><stop offset="0.3" stop-color="#c4c4e6"/><stop offset="0.5" stop-color="#8080c6"/><stop offset="0.72" stop-color="#3c3c9c"/><stop offset="0.88" stop-color="#16165a"/><stop offset="1" stop-color="#000008"/></linearGradient>
<rect x="11" y="268" width="70" height="26" fill="#ffffff" opacity="0.55"/>
<rect x="17" y="288" width="58" height="2" fill="#151515"/>
<text x="45.8" y="282" font-size="9.6" text-anchor="middle" fill="#151515">5 nm</text>
<rect x="257" y="209.6" width="44" height="84.4" fill="#ffffff" opacity="0.55"/>
<rect x="262" y="213.5" width="18.3" height="79.2" fill="url(#cbar)"/>
<text x="271.3" y="224.8" font-size="9.6" text-anchor="middle" fill="#151515">1.9</text>
<text x="271.1" y="289.3" font-size="9.6" text-anchor="middle" fill="#ffffff" style="stroke:#fff">0</text>
<text transform="translate(287.2,252.8) rotate(90)" font-size="9.5" text-anchor="middle" fill="#151515">z (Å)</text>
<circle cx="159" cy="145.8" r="8.4" fill="url(#lab)"/>
<text x="155.8" y="148.20000000000002" font-size="10.2" font-weight="bold" fill="#151515" style="stroke:none">r</text>
<text x="159.9" y="151.9" font-size="6.6" fill="#151515" style="stroke:none">2</text>
<circle cx="158.3" cy="178.5" r="8.4" fill="url(#lab)"/>
<text x="155.10000000000002" y="180.9" font-size="10.2" font-weight="bold" fill="#151515" style="stroke:none">r</text>
<text x="159.20000000000002" y="184.6" font-size="6.6" fill="#151515" style="stroke:none">3</text>
<circle cx="202.8" cy="221.2" r="8.4" fill="url(#lab)"/>
<text x="199.60000000000002" y="223.6" font-size="10.2" font-weight="bold" fill="#151515" style="stroke:none">r</text>
<text x="203.70000000000002" y="227.29999999999998" font-size="6.6" fill="#151515" style="stroke:none">1</text>
<circle cx="147.8" cy="155.3" r="1.9" fill="none" stroke="#000" stroke-width="1.3"/>
<circle cx="144.8" cy="180.2" r="1.9" fill="none" stroke="#000" stroke-width="1.3"/>
<circle cx="190.1" cy="229.3" r="1.9" fill="none" stroke="#000" stroke-width="1.3"/>
<rect x="10.6" y="5.5" width="290.4" height="288.7" fill="none" stroke="#333" stroke-width="1.2"/>
<text x="-0.3" y="7.7" font-size="10.5" font-weight="bold" style="stroke:none">a</text>
<line x1="339.6" y1="104.86" x2="425.5" y2="104.86" stroke="#9a9a9a" stroke-width="1.3"/>
<line x1="382.55" y1="6.8" x2="382.55" y2="111.4" stroke="#505050" stroke-width="1.1"/>
<polyline points="339.50,95.00 340.50,90.00 342.20,83.50 345.30,81.00 346.80,83.50 348.50,92.90 349.50,94.00 350.50,91.80 351.60,93.00 352.40,75.00 353.00,45.00 353.70,13.00 354.40,45.00 355.00,72.00 355.80,87.70 357.00,95.00 357.90,98.00 360.00,102.30 363.00,104.00 370.00,104.50 382.70,104.60 395.00,104.50 400.80,103.60 404.70,101.30 407.00,96.50 408.90,84.00 410.00,70.40 410.80,45.00 411.40,14.70 412.10,45.00 412.80,60.00 413.30,70.40 414.30,82.00 415.80,85.00 417.20,89.70 418.50,83.60 419.70,86.00 420.70,88.80 422.00,87.40 423.60,88.80 424.90,95.50 425.60,98.00" fill="none" stroke="#0a0aff" stroke-width="1.9" stroke-linejoin="round" stroke-linecap="round" clip-path="url(#clip_b)"/>
<rect x="339.6" y="6.8" width="85.90" height="104.60" fill="none" stroke="#222" stroke-width="1"/>
<path d="M339.60 111.40v-1.8M339.60 6.80v1.8M344.97 111.40v-1.1M344.97 6.80v1.1M350.34 111.40v-1.1M350.34 6.80v1.1M355.71 111.40v-1.1M355.71 6.80v1.1M361.08 111.40v-1.8M361.08 6.80v1.8M366.44 111.40v-1.1M366.44 6.80v1.1M371.81 111.40v-1.1M371.81 6.80v1.1M377.18 111.40v-1.1M377.18 6.80v1.1M382.55 111.40v-1.8M382.55 6.80v1.8M387.92 111.40v-1.1M387.92 6.80v1.1M393.29 111.40v-1.1M393.29 6.80v1.1M398.66 111.40v-1.1M398.66 6.80v1.1M404.02 111.40v-1.8M404.02 6.80v1.8M409.39 111.40v-1.1M409.39 6.80v1.1M414.76 111.40v-1.1M414.76 6.80v1.1M420.13 111.40v-1.1M420.13 6.80v1.1M425.50 111.40v-1.8M425.50 6.80v1.8M339.60 111.40h1.1M425.50 111.40h-1.1M339.60 104.86h1.8M425.50 104.86h-1.8M339.60 98.33h1.1M425.50 98.33h-1.1M339.60 91.79h1.1M425.50 91.79h-1.1M339.60 85.25h1.1M425.50 85.25h-1.1M339.60 78.71h1.1M425.50 78.71h-1.1M339.60 72.18h1.8M425.50 72.18h-1.8M339.60 65.64h1.1M425.50 65.64h-1.1M339.60 59.10h1.1M425.50 59.10h-1.1M339.60 52.56h1.1M425.50 52.56h-1.1M339.60 46.03h1.1M425.50 46.03h-1.1M339.60 39.49h1.8M425.50 39.49h-1.8M339.60 32.95h1.1M425.50 32.95h-1.1M339.60 26.41h1.1M425.50 26.41h-1.1M339.60 19.88h1.1M425.50 19.88h-1.1M339.60 13.34h1.1M425.50 13.34h-1.1M339.60 6.80h1.8M425.50 6.80h-1.8" stroke="#222" stroke-width="0.8" fill="none"/>
<text x="339.60" y="126.60" font-size="10.2" text-anchor="middle">-4</text>
<text x="361.08" y="126.60" font-size="10.2" text-anchor="middle">-2</text>
<text x="382.55" y="126.60" font-size="10.2" text-anchor="middle">0</text>
<text x="404.02" y="126.60" font-size="10.2" text-anchor="middle">2</text>
<text x="425.50" y="126.60" font-size="10.2" text-anchor="middle">4</text>
<text x="335.60" y="109.51" font-size="10.2" text-anchor="end">0</text>
<text x="335.60" y="76.83" font-size="10.2" text-anchor="end">0.5</text>
<text x="335.60" y="44.14" font-size="10.2" text-anchor="end">1</text>
<text x="335.60" y="11.45" font-size="10.2" text-anchor="end">1.5</text>
<text x="382.55" y="140.90" font-size="9.8" text-anchor="middle">Energy (meV)</text>
<text transform="translate(316.40,59.10) rotate(-90)" font-size="9.8" text-anchor="middle"><tspan font-style="italic">dI</tspan>/<tspan font-style="italic">dV</tspan> (µS)</text>
<text x="342.80" y="16.60" font-size="10.2" font-weight="bold" style="stroke:none">r</text>
<text x="346.50" y="19.70" font-size="6.2" style="stroke:none">1</text>
<text x="305.5" y="7.6" font-size="10.5" font-weight="bold" style="stroke:none">b</text>
<line x1="339.6" y1="259.79" x2="425.5" y2="259.79" stroke="#9a9a9a" stroke-width="1.3"/>
<line x1="382.55" y1="159.2" x2="382.55" y2="262.3" stroke="#505050" stroke-width="1.1"/>
<polyline points="339.50,212.70 340.00,212.30 342.00,213.80 345.00,213.50 347.10,215.50 348.20,220.00 349.20,224.50 350.50,223.00 352.00,217.30 353.60,214.70 354.80,210.80 355.70,200.00 356.90,175.00 357.70,164.50 358.50,175.00 359.30,200.00 360.00,215.00 360.70,228.00 362.20,243.20 363.90,254.00 366.10,257.90 369.30,259.20 376.90,259.60 384.00,259.70 391.90,259.40 396.90,258.40 399.40,256.40 401.00,252.20 402.20,244.80 403.20,234.90 404.40,223.30 405.20,210.00 406.20,180.00 407.10,163.30 408.20,173.20 409.30,193.00 410.40,202.90 412.10,206.20 413.70,209.50 415.90,216.70 418.10,213.80 419.60,213.20 421.40,218.20 423.10,217.60 425.50,218.20" fill="none" stroke="#ff0a0a" stroke-width="1.9" stroke-linejoin="round" stroke-linecap="round" clip-path="url(#clip_c)"/>
<rect x="339.6" y="159.2" width="85.90" height="103.10" fill="none" stroke="#222" stroke-width="1"/>
<path d="M341.32 262.30v-1.1M341.32 159.20v1.1M344.75 262.30v-1.1M344.75 159.20v1.1M348.19 262.30v-1.8M348.19 159.20v1.8M351.63 262.30v-1.1M351.63 159.20v1.1M355.06 262.30v-1.1M355.06 159.20v1.1M358.50 262.30v-1.1M358.50 159.20v1.1M361.93 262.30v-1.1M361.93 159.20v1.1M365.37 262.30v-1.8M365.37 159.20v1.8M368.81 262.30v-1.1M368.81 159.20v1.1M372.24 262.30v-1.1M372.24 159.20v1.1M375.68 262.30v-1.1M375.68 159.20v1.1M379.11 262.30v-1.1M379.11 159.20v1.1M382.55 262.30v-1.8M382.55 159.20v1.8M385.99 262.30v-1.1M385.99 159.20v1.1M389.42 262.30v-1.1M389.42 159.20v1.1M392.86 262.30v-1.1M392.86 159.20v1.1M396.29 262.30v-1.1M396.29 159.20v1.1M399.73 262.30v-1.8M399.73 159.20v1.8M403.17 262.30v-1.1M403.17 159.20v1.1M406.60 262.30v-1.1M406.60 159.20v1.1M410.04 262.30v-1.1M410.04 159.20v1.1M413.47 262.30v-1.1M413.47 159.20v1.1M416.91 262.30v-1.8M416.91 159.20v1.8M420.35 262.30v-1.1M420.35 159.20v1.1M423.78 262.30v-1.1M423.78 159.20v1.1M339.60 259.79h1.8M425.50 259.79h-1.8M339.60 247.21h1.1M425.50 247.21h-1.1M339.60 234.64h1.1M425.50 234.64h-1.1M339.60 222.07h1.1M425.50 222.07h-1.1M339.60 209.49h1.8M425.50 209.49h-1.8M339.60 196.92h1.1M425.50 196.92h-1.1M339.60 184.35h1.1M425.50 184.35h-1.1M339.60 171.77h1.1M425.50 171.77h-1.1M339.60 159.20h1.8M425.50 159.20h-1.8" stroke="#222" stroke-width="0.8" fill="none"/>
<text x="348.19" y="277.50" font-size="10.2" text-anchor="middle">-2</text>
<text x="365.37" y="277.50" font-size="10.2" text-anchor="middle">-1</text>
<text x="382.55" y="277.50" font-size="10.2" text-anchor="middle">0</text>
<text x="399.73" y="277.50" font-size="10.2" text-anchor="middle">1</text>
<text x="416.91" y="277.50" font-size="10.2" text-anchor="middle">2</text>
<text x="335.60" y="264.44" font-size="10.2" text-anchor="end">0</text>
<text x="335.60" y="214.14" font-size="10.2" text-anchor="end">2</text>
<text x="335.60" y="163.85" font-size="10.2" text-anchor="end">4</text>
<text x="382.55" y="291.80" font-size="9.8" text-anchor="middle">Energy (meV)</text>
<text transform="translate(316.40,210.75) rotate(-90)" font-size="9.8" text-anchor="middle">LDOS (arb. units)</text>
<text x="342.80" y="169.00" font-size="10.2" font-weight="bold" style="stroke:none">r</text>
<text x="346.50" y="172.10" font-size="6.2" style="stroke:none">1</text>
<text x="305.5" y="161.2" font-size="10.5" font-weight="bold" style="stroke:none">c</text>
<line x1="466.8" y1="104.86" x2="553.1" y2="104.86" stroke="#9a9a9a" stroke-width="1.3"/>
<line x1="509.95" y1="6.8" x2="509.95" y2="111.4" stroke="#a0a0a0" stroke-width="1.1"/>
<line x1="495.80" y1="6.8" x2="495.80" y2="111.4" stroke="#8a8a8a" stroke-width="1.4" stroke-dasharray="8.2 3.2 1.6 3.2"/>
<line x1="523.80" y1="6.8" x2="523.80" y2="111.4" stroke="#8a8a8a" stroke-width="1.4" stroke-dasharray="8.2 3.2 1.6 3.2"/>
<polyline points="466.60,92.30 468.60,88.70 470.40,76.50 471.80,63.10 473.00,58.20 474.20,51.70 475.20,53.40 476.40,59.50 477.70,63.10 478.90,64.30 480.10,76.50 481.30,77.00 482.50,74.00 483.20,70.40 484.00,76.50 485.00,88.70 486.40,97.20 488.10,101.50 490.50,103.80 492.40,108.50 493.60,105.00 494.90,96.30 496.10,85.00 497.40,96.30 498.60,101.90 500.50,103.80 504.00,104.00 510.00,104.00 516.00,103.60 520.40,102.50 522.10,97.70 523.00,89.80 523.90,84.60 524.80,90.70 525.60,100.40 526.50,106.50 527.40,108.20 528.30,105.60 530.00,95.00 531.80,81.00 532.90,70.00 533.90,55.00 534.80,42.00 535.70,40.00 536.30,50.00 538.30,71.40 539.60,66.00 541.00,63.20 542.90,41.60 544.20,30.80 545.60,38.90 546.90,57.80 548.50,74.00 550.20,90.30 551.00,93.00 552.90,91.60 553.50,92.00" fill="none" stroke="#0a0aff" stroke-width="1.9" stroke-linejoin="round" stroke-linecap="round" clip-path="url(#clip_d)"/>
<line x1="495.9" y1="60.8" x2="495.9" y2="73.6" stroke="#000" stroke-width="1.3"/>
<path d="M495.9 78.6L492.0 69.19999999999999L495.9 71.19999999999999L499.79999999999995 69.19999999999999Z" fill="#000"/>
<line x1="523.9" y1="60.8" x2="523.9" y2="73.6" stroke="#000" stroke-width="1.3"/>
<path d="M523.9 78.6L520.0 69.19999999999999L523.9 71.19999999999999L527.8 69.19999999999999Z" fill="#000"/>
<rect x="466.8" y="6.8" width="86.30" height="104.60" fill="none" stroke="#222" stroke-width="1"/>
<path d="M466.80 111.40v-1.8M466.80 6.80v1.8M472.19 111.40v-1.1M472.19 6.80v1.1M477.59 111.40v-1.1M477.59 6.80v1.1M482.98 111.40v-1.1M482.98 6.80v1.1M488.38 111.40v-1.8M488.38 6.80v1.8M493.77 111.40v-1.1M493.77 6.80v1.1M499.16 111.40v-1.1M499.16 6.80v1.1M504.56 111.40v-1.1M504.56 6.80v1.1M509.95 111.40v-1.8M509.95 6.80v1.8M515.34 111.40v-1.1M515.34 6.80v1.1M520.74 111.40v-1.1M520.74 6.80v1.1M526.13 111.40v-1.1M526.13 6.80v1.1M531.52 111.40v-1.8M531.52 6.80v1.8M536.92 111.40v-1.1M536.92 6.80v1.1M542.31 111.40v-1.1M542.31 6.80v1.1M547.71 111.40v-1.1M547.71 6.80v1.1M553.10 111.40v-1.8M553.10 6.80v1.8M466.80 111.40h1.1M553.10 111.40h-1.1M466.80 104.86h1.8M553.10 104.86h-1.8M466.80 98.33h1.1M553.10 98.33h-1.1M466.80 91.79h1.1M553.10 91.79h-1.1M466.80 85.25h1.1M553.10 85.25h-1.1M466.80 78.71h1.1M553.10 78.71h-1.1M466.80 72.18h1.8M553.10 72.18h-1.8M466.80 65.64h1.1M553.10 65.64h-1.1M466.80 59.10h1.1M553.10 59.10h-1.1M466.80 52.56h1.1M553.10 52.56h-1.1M466.80 46.03h1.1M553.10 46.03h-1.1M466.80 39.49h1.8M553.10 39.49h-1.8M466.80 32.95h1.1M553.10 32.95h-1.1M466.80 26.41h1.1M553.10 26.41h-1.1M466.80 19.88h1.1M553.10 19.88h-1.1M466.80 13.34h1.1M553.10 13.34h-1.1M466.80 6.80h1.8M553.10 6.80h-1.8" stroke="#222" stroke-width="0.8" fill="none"/>
<text x="466.80" y="126.60" font-size="10.2" text-anchor="middle">-4</text>
<text x="488.38" y="126.60" font-size="10.2" text-anchor="middle">-2</text>
<text x="509.95" y="126.60" font-size="10.2" text-anchor="middle">0</text>
<text x="531.52" y="126.60" font-size="10.2" text-anchor="middle">2</text>
<text x="553.10" y="126.60" font-size="10.2" text-anchor="middle">4</text>
<text x="462.80" y="109.51" font-size="10.2" text-anchor="end">0</text>
<text x="462.80" y="76.83" font-size="10.2" text-anchor="end">0.5</text>
<text x="462.80" y="44.14" font-size="10.2" text-anchor="end">1</text>
<text x="462.80" y="11.45" font-size="10.2" text-anchor="end">1.5</text>
<text x="509.95" y="140.90" font-size="9.8" text-anchor="middle">Energy (meV)</text>
<text transform="translate(443.60,59.10) rotate(-90)" font-size="9.8" text-anchor="middle"><tspan font-style="italic">dI</tspan>/<tspan font-style="italic">dV</tspan> (µS)</text>
<text x="470.00" y="16.60" font-size="10.2" font-weight="bold" style="stroke:none">r</text>
<text x="473.70" y="19.70" font-size="6.2" style="stroke:none">2</text>
<text x="433" y="8" font-size="10.5" font-weight="bold" style="stroke:none">d</text>
<line x1="466.8" y1="259.79" x2="553.1" y2="259.79" stroke="#9a9a9a" stroke-width="1.3"/>
<line x1="509.95" y1="159.2" x2="509.95" y2="262.3" stroke="#a0a0a0" stroke-width="1.1"/>
<line x1="487.30" y1="159.2" x2="487.30" y2="262.3" stroke="#222" stroke-width="1.0" stroke-dasharray="8.2 3.2 1.6 3.2"/>
<line x1="532.50" y1="159.2" x2="532.50" y2="262.3" stroke="#222" stroke-width="1.0" stroke-dasharray="8.2 3.2 1.6 3.2"/>
<polyline points="466.70,228.10 468.20,221.60 469.80,219.00 471.50,218.40 472.60,219.50 474.10,217.30 475.40,220.60 476.90,226.00 478.40,230.30 480.20,235.70 481.90,240.00 483.40,240.00 485.10,241.10 486.60,241.80 488.40,243.30 489.90,248.70 491.40,255.20 493.10,258.00 495.30,258.90 499.60,259.30 502.30,258.00 503.50,255.50 505.00,251.90 507.20,244.40 509.90,239.60 511.40,243.20 513.10,251.90 515.00,257.00 517.50,258.60 518.80,259.10 522.00,258.00 523.80,253.80 525.50,242.50 527.00,232.50 528.30,223.80 529.30,225.00 530.80,227.00 532.00,225.00 533.30,230.00 535.00,227.50 536.30,225.00 537.50,221.30 539.50,212.50 541.30,205.00 543.00,202.50 545.00,203.00 547.00,207.50 548.80,215.00 550.50,223.80 552.50,231.30 553.50,233.00" fill="none" stroke="#ff0a0a" stroke-width="1.9" stroke-linejoin="round" stroke-linecap="round" clip-path="url(#clip_e)"/>
<line x1="509.9" y1="216.2" x2="509.9" y2="229.8" stroke="#000" stroke-width="1.3"/>
<path d="M509.9 234.8L506.0 225.4L509.9 227.4L513.8 225.4Z" fill="#000"/>
<rect x="466.8" y="159.2" width="86.30" height="103.10" fill="none" stroke="#222" stroke-width="1"/>
<path d="M468.53 262.30v-1.1M468.53 159.20v1.1M471.98 262.30v-1.1M471.98 159.20v1.1M475.43 262.30v-1.8M475.43 159.20v1.8M478.88 262.30v-1.1M478.88 159.20v1.1M482.33 262.30v-1.1M482.33 159.20v1.1M485.79 262.30v-1.1M485.79 159.20v1.1M489.24 262.30v-1.1M489.24 159.20v1.1M492.69 262.30v-1.8M492.69 159.20v1.8M496.14 262.30v-1.1M496.14 159.20v1.1M499.59 262.30v-1.1M499.59 159.20v1.1M503.05 262.30v-1.1M503.05 159.20v1.1M506.50 262.30v-1.1M506.50 159.20v1.1M509.95 262.30v-1.8M509.95 159.20v1.8M513.40 262.30v-1.1M513.40 159.20v1.1M516.85 262.30v-1.1M516.85 159.20v1.1M520.31 262.30v-1.1M520.31 159.20v1.1M523.76 262.30v-1.1M523.76 159.20v1.1M527.21 262.30v-1.8M527.21 159.20v1.8M530.66 262.30v-1.1M530.66 159.20v1.1M534.11 262.30v-1.1M534.11 159.20v1.1M537.57 262.30v-1.1M537.57 159.20v1.1M541.02 262.30v-1.1M541.02 159.20v1.1M544.47 262.30v-1.8M544.47 159.20v1.8M547.92 262.30v-1.1M547.92 159.20v1.1M551.37 262.30v-1.1M551.37 159.20v1.1M466.80 259.79h1.8M553.10 259.79h-1.8M466.80 247.21h1.1M553.10 247.21h-1.1M466.80 234.64h1.1M553.10 234.64h-1.1M466.80 222.07h1.1M553.10 222.07h-1.1M466.80 209.49h1.8M553.10 209.49h-1.8M466.80 196.92h1.1M553.10 196.92h-1.1M466.80 184.35h1.1M553.10 184.35h-1.1M466.80 171.77h1.1M553.10 171.77h-1.1M466.80 159.20h1.8M553.10 159.20h-1.8" stroke="#222" stroke-width="0.8" fill="none"/>
<text x="475.43" y="277.50" font-size="10.2" text-anchor="middle">-2</text>
<text x="492.69" y="277.50" font-size="10.2" text-anchor="middle">-1</text>
<text x="509.95" y="277.50" font-size="10.2" text-anchor="middle">0</text>
<text x="527.21" y="277.50" font-size="10.2" text-anchor="middle">1</text>
<text x="544.47" y="277.50" font-size="10.2" text-anchor="middle">2</text>
<text x="462.80" y="264.44" font-size="10.2" text-anchor="end">0</text>
<text x="462.80" y="214.14" font-size="10.2" text-anchor="end">2</text>
<text x="462.80" y="163.85" font-size="10.2" text-anchor="end">4</text>
<text x="509.95" y="291.80" font-size="9.8" text-anchor="middle">Energy (meV)</text>
<text transform="translate(443.60,210.75) rotate(-90)" font-size="9.8" text-anchor="middle">LDOS (arb. units)</text>
<text x="470.00" y="169.00" font-size="10.2" font-weight="bold" style="stroke:none">r</text>
<text x="473.70" y="172.10" font-size="6.2" style="stroke:none">2</text>
<text x="436.5" y="161.2" font-size="10.5" font-weight="bold" style="stroke:none">e</text>
<line x1="597.1" y1="104.86" x2="683.5" y2="104.86" stroke="#9a9a9a" stroke-width="1.3"/>
<line x1="640.30" y1="6.8" x2="640.30" y2="111.4" stroke="#505050" stroke-width="1.1"/>
<line x1="626.40" y1="6.8" x2="626.40" y2="111.4" stroke="#444" stroke-width="1.1" stroke-dasharray="8.2 3.2 1.6 3.2"/>
<line x1="654.40" y1="6.8" x2="654.40" y2="111.4" stroke="#444" stroke-width="1.1" stroke-dasharray="8.2 3.2 1.6 3.2"/>
<polyline points="597.00,89.60 598.80,88.20 600.20,89.60 601.50,85.40 602.90,84.00 604.30,82.60 605.70,79.90 606.50,71.60 607.60,52.20 608.50,38.30 609.30,35.50 610.40,41.10 611.50,60.50 612.60,77.10 614.00,88.20 615.40,99.30 616.80,106.20 617.60,108.10 618.70,96.50 619.50,77.00 620.50,83.50 621.50,95.00 622.60,99.30 623.20,101.00 625.60,103.40 629.10,104.30 631.50,103.40 632.40,102.50 633.20,103.40 636.20,103.80 640.30,104.00 645.70,103.40 647.40,102.50 648.60,101.60 649.80,102.80 652.80,103.40 656.30,102.80 658.10,100.40 659.30,92.80 660.10,84.50 660.90,82.10 662.00,93.70 663.10,104.20 664.50,93.70 665.90,74.30 667.30,52.30 668.50,41.60 669.70,42.80 670.40,28.60 671.10,19.20 672.00,22.70 673.00,38.10 673.90,52.30 675.10,62.90 676.70,68.80 678.30,75.70 681.10,85.40 683.00,91.00 684.00,92.00" fill="none" stroke="#0a0aff" stroke-width="1.9" stroke-linejoin="round" stroke-linecap="round" clip-path="url(#clip_f)"/>
<line x1="619.9" y1="55.5" x2="619.9" y2="68.6" stroke="#000" stroke-width="1.3"/>
<path d="M619.9 73.6L616.0 64.19999999999999L619.9 66.19999999999999L623.8 64.19999999999999Z" fill="#000"/>
<line x1="632" y1="82.1" x2="632" y2="95.5" stroke="#000" stroke-width="1.3"/>
<path d="M632 100.5L628.1 91.1L632 93.1L635.9 91.1Z" fill="#000"/>
<line x1="648.3" y1="82.1" x2="648.3" y2="95.5" stroke="#000" stroke-width="1.3"/>
<path d="M648.3 100.5L644.4 91.1L648.3 93.1L652.1999999999999 91.1Z" fill="#000"/>
<line x1="660.3" y1="55.5" x2="660.3" y2="68.6" stroke="#000" stroke-width="1.3"/>
<path d="M660.3 73.6L656.4 64.19999999999999L660.3 66.19999999999999L664.1999999999999 64.19999999999999Z" fill="#000"/>
<rect x="597.1" y="6.8" width="86.40" height="104.60" fill="none" stroke="#222" stroke-width="1"/>
<path d="M597.10 111.40v-1.8M597.10 6.80v1.8M602.50 111.40v-1.1M602.50 6.80v1.1M607.90 111.40v-1.1M607.90 6.80v1.1M613.30 111.40v-1.1M613.30 6.80v1.1M618.70 111.40v-1.8M618.70 6.80v1.8M624.10 111.40v-1.1M624.10 6.80v1.1M629.50 111.40v-1.1M629.50 6.80v1.1M634.90 111.40v-1.1M634.90 6.80v1.1M640.30 111.40v-1.8M640.30 6.80v1.8M645.70 111.40v-1.1M645.70 6.80v1.1M651.10 111.40v-1.1M651.10 6.80v1.1M656.50 111.40v-1.1M656.50 6.80v1.1M661.90 111.40v-1.8M661.90 6.80v1.8M667.30 111.40v-1.1M667.30 6.80v1.1M672.70 111.40v-1.1M672.70 6.80v1.1M678.10 111.40v-1.1M678.10 6.80v1.1M683.50 111.40v-1.8M683.50 6.80v1.8M597.10 111.40h1.1M683.50 111.40h-1.1M597.10 104.86h1.8M683.50 104.86h-1.8M597.10 98.33h1.1M683.50 98.33h-1.1M597.10 91.79h1.1M683.50 91.79h-1.1M597.10 85.25h1.1M683.50 85.25h-1.1M597.10 78.71h1.1M683.50 78.71h-1.1M597.10 72.18h1.8M683.50 72.18h-1.8M597.10 65.64h1.1M683.50 65.64h-1.1M597.10 59.10h1.1M683.50 59.10h-1.1M597.10 52.56h1.1M683.50 52.56h-1.1M597.10 46.03h1.1M683.50 46.03h-1.1M597.10 39.49h1.8M683.50 39.49h-1.8M597.10 32.95h1.1M683.50 32.95h-1.1M597.10 26.41h1.1M683.50 26.41h-1.1M597.10 19.88h1.1M683.50 19.88h-1.1M597.10 13.34h1.1M683.50 13.34h-1.1M597.10 6.80h1.8M683.50 6.80h-1.8" stroke="#222" stroke-width="0.8" fill="none"/>
<text x="597.10" y="126.60" font-size="10.2" text-anchor="middle">-4</text>
<text x="618.70" y="126.60" font-size="10.2" text-anchor="middle">-2</text>
<text x="640.30" y="126.60" font-size="10.2" text-anchor="middle">0</text>
<text x="661.90" y="126.60" font-size="10.2" text-anchor="middle">2</text>
<text x="683.50" y="126.60" font-size="10.2" text-anchor="middle">4</text>
<text x="593.10" y="109.51" font-size="10.2" text-anchor="end">0</text>
<text x="593.10" y="76.83" font-size="10.2" text-anchor="end">0.5</text>
<text x="593.10" y="44.14" font-size="10.2" text-anchor="end">1</text>
<text x="593.10" y="11.45" font-size="10.2" text-anchor="end">1.5</text>
<text x="640.30" y="140.90" font-size="9.8" text-anchor="middle">Energy (meV)</text>
<text transform="translate(573.90,59.10) rotate(-90)" font-size="9.8" text-anchor="middle"><tspan font-style="italic">dI</tspan>/<tspan font-style="italic">dV</tspan> (µS)</text>
<text x="600.30" y="16.60" font-size="10.2" font-weight="bold" style="stroke:none">r</text>
<text x="604.00" y="19.70" font-size="6.2" style="stroke:none">3</text>
<text x="565.5" y="7.5" font-size="10.5" font-weight="bold" style="stroke:none">f</text>
<line x1="597.1" y1="259.79" x2="683.5" y2="259.79" stroke="#9a9a9a" stroke-width="1.3"/>
<line x1="640.30" y1="159.2" x2="640.30" y2="262.3" stroke="#505050" stroke-width="1.1"/>
<line x1="617.70" y1="159.2" x2="617.70" y2="262.3" stroke="#222" stroke-width="1.0" stroke-dasharray="8.2 3.2 1.6 3.2"/>
<line x1="662.70" y1="159.2" x2="662.70" y2="262.3" stroke="#222" stroke-width="1.0" stroke-dasharray="8.2 3.2 1.6 3.2"/>
<polyline points="597.00,233.60 598.50,232.40 600.10,229.60 602.00,227.70 603.90,226.50 605.50,224.20 607.10,221.90 608.60,217.20 609.70,210.20 610.90,207.90 611.80,210.20 612.80,217.20 614.20,227.70 615.60,232.40 617.20,238.20 618.80,245.20 620.70,252.20 622.60,256.20 624.20,257.60 625.80,255.70 627.00,251.10 628.20,242.90 629.30,247.60 630.50,254.60 632.40,257.60 635.90,258.60 641.00,259.30 643.70,258.30 646.50,256.00 648.50,250.40 649.90,245.80 651.30,250.90 653.60,256.00 655.60,254.30 657.90,245.30 660.10,231.10 661.60,224.00 663.00,222.00 664.40,214.00 665.80,202.70 667.20,195.60 668.60,194.20 670.10,198.40 671.50,202.70 673.50,205.00 675.50,207.00 677.70,209.80 680.00,214.00 682.00,219.70 684.00,224.00" fill="none" stroke="#ff0a0a" stroke-width="1.9" stroke-linejoin="round" stroke-linecap="round" clip-path="url(#clip_g)"/>
<line x1="628.9" y1="221.9" x2="628.9" y2="234.6" stroke="#000" stroke-width="1.3"/>
<path d="M628.9 239.6L625.0 230.2L628.9 232.2L632.8 230.2Z" fill="#000"/>
<line x1="650.5" y1="221.5" x2="650.5" y2="234.6" stroke="#000" stroke-width="1.3"/>
<path d="M650.5 239.6L646.6 230.2L650.5 232.2L654.4 230.2Z" fill="#000"/>
<rect x="597.1" y="159.2" width="86.40" height="103.10" fill="none" stroke="#222" stroke-width="1"/>
<path d="M598.83 262.30v-1.1M598.83 159.20v1.1M602.28 262.30v-1.1M602.28 159.20v1.1M605.74 262.30v-1.8M605.74 159.20v1.8M609.20 262.30v-1.1M609.20 159.20v1.1M612.65 262.30v-1.1M612.65 159.20v1.1M616.11 262.30v-1.1M616.11 159.20v1.1M619.56 262.30v-1.1M619.56 159.20v1.1M623.02 262.30v-1.8M623.02 159.20v1.8M626.48 262.30v-1.1M626.48 159.20v1.1M629.93 262.30v-1.1M629.93 159.20v1.1M633.39 262.30v-1.1M633.39 159.20v1.1M636.84 262.30v-1.1M636.84 159.20v1.1M640.30 262.30v-1.8M640.30 159.20v1.8M643.76 262.30v-1.1M643.76 159.20v1.1M647.21 262.30v-1.1M647.21 159.20v1.1M650.67 262.30v-1.1M650.67 159.20v1.1M654.12 262.30v-1.1M654.12 159.20v1.1M657.58 262.30v-1.8M657.58 159.20v1.8M661.04 262.30v-1.1M661.04 159.20v1.1M664.49 262.30v-1.1M664.49 159.20v1.1M667.95 262.30v-1.1M667.95 159.20v1.1M671.40 262.30v-1.1M671.40 159.20v1.1M674.86 262.30v-1.8M674.86 159.20v1.8M678.32 262.30v-1.1M678.32 159.20v1.1M681.77 262.30v-1.1M681.77 159.20v1.1M597.10 259.79h1.8M683.50 259.79h-1.8M597.10 247.21h1.1M683.50 247.21h-1.1M597.10 234.64h1.1M683.50 234.64h-1.1M597.10 222.07h1.1M683.50 222.07h-1.1M597.10 209.49h1.8M683.50 209.49h-1.8M597.10 196.92h1.1M683.50 196.92h-1.1M597.10 184.35h1.1M683.50 184.35h-1.1M597.10 171.77h1.1M683.50 171.77h-1.1M597.10 159.20h1.8M683.50 159.20h-1.8" stroke="#222" stroke-width="0.8" fill="none"/>
<text x="605.74" y="277.50" font-size="10.2" text-anchor="middle">-2</text>
<text x="623.02" y="277.50" font-size="10.2" text-anchor="middle">-1</text>
<text x="640.30" y="277.50" font-size="10.2" text-anchor="middle">0</text>
<text x="657.58" y="277.50" font-size="10.2" text-anchor="middle">1</text>
<text x="674.86" y="277.50" font-size="10.2" text-anchor="middle">2</text>
<text x="593.10" y="264.44" font-size="10.2" text-anchor="end">0</text>
<text x="593.10" y="214.14" font-size="10.2" text-anchor="end">2</text>
<text x="593.10" y="163.85" font-size="10.2" text-anchor="end">4</text>
<text x="640.30" y="291.80" font-size="9.8" text-anchor="middle">Energy (meV)</text>
<text transform="translate(573.90,210.75) rotate(-90)" font-size="9.8" text-anchor="middle">LDOS (arb. units)</text>
<text x="600.30" y="169.00" font-size="10.2" font-weight="bold" style="stroke:none">r</text>
<text x="604.00" y="172.10" font-size="6.2" style="stroke:none">3</text>
<text x="564" y="161.2" font-size="10.5" font-weight="bold" style="stroke:none">g</text>
</svg></body></html>
